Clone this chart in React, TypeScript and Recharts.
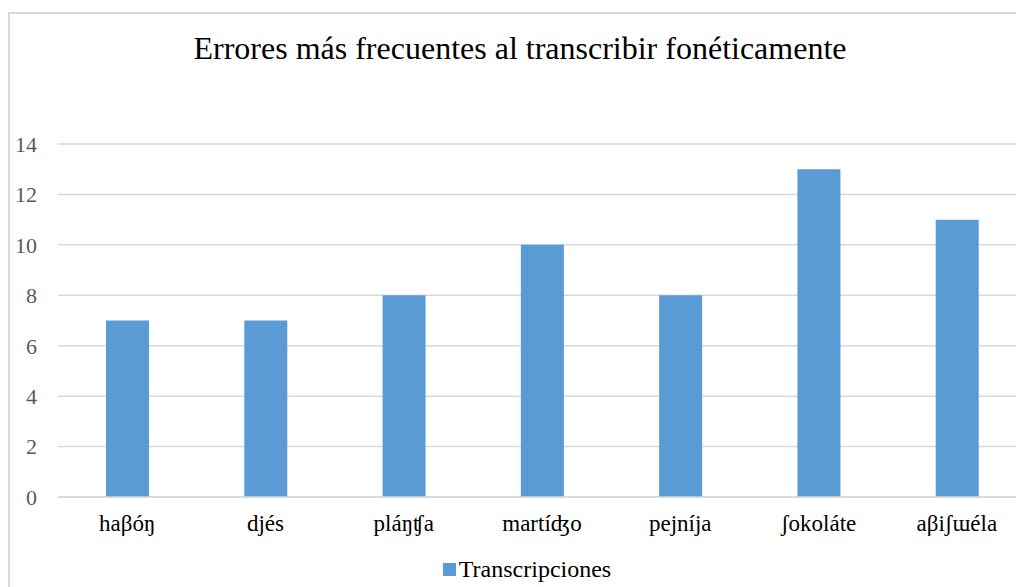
import { BarChart, Bar, XAxis, YAxis, CartesianGrid } from 'recharts';

const palabras = ['haβóŋ', 'djés', 'pláŋʧa', 'martíʤo', 'pejníja', 'ʃokoláte', 'aβiʃɯéla'];
const transcripciones = [7, 7, 8, 10, 8, 13, 11];
const yTicks = [0, 2, 4, 6, 8, 10, 12, 14];

const SERIF = 'Liberation Serif, Times New Roman, DejaVu Serif, serif';
const BLUE = '#5B9BD5';

const data = palabras.map((p, i) => ({ palabra: p, valor: transcripciones[i] }));

export default function App() {
  return (
    <div style={{ position: 'absolute', left: 0, top: 0, width: 1016, height: 587, overflow: 'hidden', background: '#fff', fontFamily: SERIF }}>
      {/* chart frame */}
      <div style={{ position: 'absolute', left: 8, top: 12, width: 1030, height: 600, border: '2px solid #d9d9d9' }} />
      <div style={{ position: 'absolute', left: 0, top: 30, width: 1040, textAlign: 'center', fontSize: 32, color: '#000' }}>
        Errores más frecuentes al transcribir fonéticamente
      </div>
      <div style={{ position: 'absolute', left: 0, top: 0 }}>
        <BarChart width={1026} height={587} data={data} margin={{ top: 144, right: 0, left: 0, bottom: 60 }}>
          <CartesianGrid vertical={false} stroke="#d9d9d9" strokeWidth={1.5} />
          <XAxis
            dataKey="palabra"
            height={30}
            axisLine={{ stroke: '#d9d9d9', strokeWidth: 1.5 }}
            tickLine={false}
            tickMargin={12}
            tick={{ fontFamily: SERIF, fontSize: 23, fill: '#000' }}
            interval={0}
          />
          <YAxis
            width={58}
            domain={[0, 14]}
            ticks={yTicks}
            axisLine={false}
            tickLine={false}
            tickSize={0}
            tickMargin={21}
            tick={{ fontFamily: SERIF, fontSize: 22, fill: '#595959' }}
          />
          <Bar dataKey="valor" fill={BLUE} barSize={43} isAnimationActive={false} />
        </BarChart>
      </div>
      {/* legend */}
      <div style={{ position: 'absolute', left: 0, top: 556, width: 1054, display: 'flex', alignItems: 'center', justifyContent: 'center', fontSize: 24, color: '#000' }}>
        <span style={{ display: 'inline-block', width: 13, height: 13, background: BLUE, marginRight: 3 }} />
        Transcripciones
      </div>
    </div>
  );
}
